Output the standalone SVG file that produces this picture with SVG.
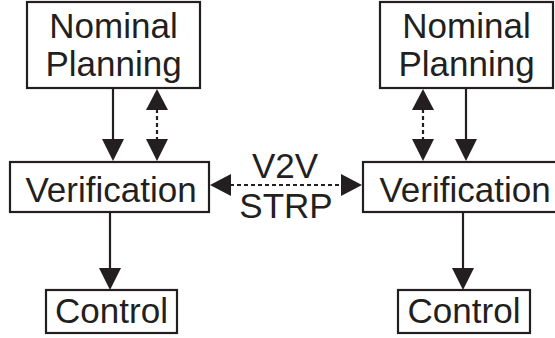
<svg xmlns="http://www.w3.org/2000/svg" width="555" height="338" viewBox="0 0 555 338">
  <style>
    .box { fill: #fff; stroke: #231f20; stroke-width: 2.2; }
    .lbl { font-family: "Liberation Sans", Arial, sans-serif; font-size: 35px; fill: #231f20; text-anchor: middle; }
    .solid { stroke: #231f20; stroke-width: 2.2; fill: none; }
    .dash { stroke: #231f20; stroke-width: 2.2; fill: none; stroke-dasharray: 4 3; }
    .head { fill: #231f20; }
  </style>
  <rect width="555" height="338" fill="#fff"/>

  <!-- left vehicle -->
  <g id="planning-left">
    <rect class="box" x="27" y="2" width="173" height="86"/>
    <text class="lbl" x="113.5" y="38">Nominal</text>
    <text class="lbl" x="113.5" y="76">Planning</text>
  </g>
  <g id="verification-left">
    <rect class="box" x="10" y="162" width="199" height="50"/>
    <text class="lbl" x="111" y="202">Verification</text>
  </g>
  <g id="control-left">
    <rect class="box" x="46" y="290" width="131" height="43"/>
    <text class="lbl" x="111.5" y="323">Control</text>
  </g>

  <!-- right vehicle -->
  <g id="planning-right">
    <rect class="box" x="380" y="2" width="173" height="86"/>
    <text class="lbl" x="466.5" y="38">Nominal</text>
    <text class="lbl" x="466.5" y="76">Planning</text>
  </g>
  <g id="verification-right">
    <rect class="box" x="363" y="162" width="199" height="50"/>
    <text class="lbl" x="465" y="202">Verification</text>
  </g>
  <g id="control-right">
    <rect class="box" x="398" y="290" width="132" height="43"/>
    <text class="lbl" x="464" y="323">Control</text>
  </g>

  <!-- V2V link label -->
  <g id="v2v-label">
    <text class="lbl" x="285" y="178">V2V</text>
    <text class="lbl" x="286" y="218">STRP</text>
  </g>

  <g id="connectors">
    <!-- left: planning -> verification -->
    <line class="solid" x1="113" y1="88" x2="113" y2="140"/>
    <polygon class="head" points="102,139 124,139 113,161"/>
    <!-- left: planning <-> verification (feedback) -->
    <line class="dash" x1="157" y1="109" x2="157" y2="140"/>
    <polygon class="head" points="157,89 146,110 168,110"/>
    <polygon class="head" points="146,139 168,139 157,161"/>
    <!-- left: verification -> control -->
    <line class="solid" x1="110" y1="212" x2="110" y2="269"/>
    <polygon class="head" points="99,268 121,268 110,290"/>

    <!-- right: planning <-> verification (feedback) -->
    <line class="dash" x1="423" y1="109" x2="423" y2="140"/>
    <polygon class="head" points="423,89 412,110 434,110"/>
    <polygon class="head" points="412,139 434,139 423,161"/>
    <!-- right: planning -> verification -->
    <line class="solid" x1="466" y1="88" x2="466" y2="140"/>
    <polygon class="head" points="455,139 477,139 466,161"/>
    <!-- right: verification -> control -->
    <line class="solid" x1="463" y1="212" x2="463" y2="269"/>
    <polygon class="head" points="452,268 474,268 463,290"/>

    <!-- V2V exchange between verifiers -->
    <line class="dash" x1="230" y1="185" x2="342" y2="185"/>
    <polygon class="head" points="210,185 231,174 231,196"/>
    <polygon class="head" points="362,185 341,174 341,196"/>
  </g>
</svg>
